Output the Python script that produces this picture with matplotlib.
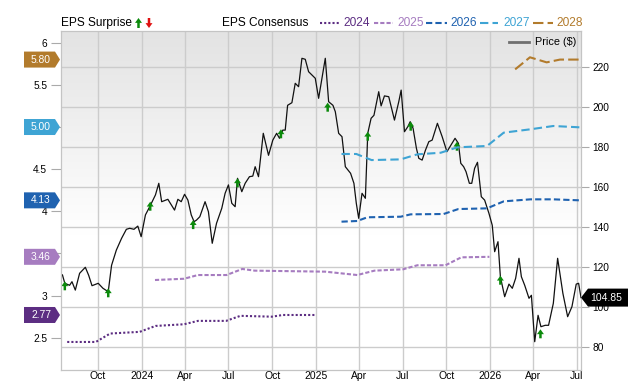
import matplotlib.pyplot as plt
import matplotlib.dates as mdates
import matplotlib.transforms as mtrans
from matplotlib.patches import Polygon, FancyArrowPatch
from matplotlib.lines import Line2D
import numpy as np
import pandas as pd

plt.rcParams['font.family'] = ['Liberation Sans', 'DejaVu Sans']

# ---- price ($), right axis ----
price_dates = [
    '2023-07-19', '2023-07-24', '2023-08-03', '2023-08-08', '2023-08-15', '2023-08-24', '2023-09-05',
    '2023-09-12', '2023-09-19', '2023-10-02', '2023-10-12', '2023-10-23', '2023-10-30', '2023-11-09',
    '2023-11-20', '2023-11-30', '2023-12-07', '2023-12-16', '2023-12-24', '2023-12-31', '2024-01-09',
    '2024-01-18', '2024-01-30', '2024-02-06', '2024-02-12', '2024-02-25', '2024-03-10', '2024-03-17',
    '2024-03-24', '2024-03-31', '2024-04-07', '2024-04-14', '2024-04-20', '2024-04-25', '2024-05-02',
    '2024-05-13', '2024-05-20', '2024-05-28', '2024-06-06', '2024-06-17', '2024-06-24', '2024-07-01',
    '2024-07-08', '2024-07-15', '2024-07-20', '2024-07-29', '2024-08-05', '2024-08-14', '2024-08-21',
    '2024-08-26', '2024-09-02', '2024-09-12', '2024-09-23', '2024-10-02', '2024-10-10', '2024-10-16',
    '2024-10-23', '2024-10-28', '2024-11-02', '2024-11-11', '2024-11-18', '2024-11-25', '2024-12-02',
    '2024-12-09', '2024-12-16', '2024-12-30', '2025-01-06', '2025-01-20', '2025-01-27', '2025-02-05',
    '2025-02-10', '2025-02-17', '2025-02-24', '2025-03-03', '2025-03-14', '2025-03-21', '2025-03-26',
    '2025-03-31', '2025-04-07', '2025-04-14', '2025-04-19', '2025-04-26', '2025-05-02', '2025-05-07',
    '2025-05-12', '2025-05-17', '2025-05-24', '2025-06-02', '2025-06-09', '2025-06-14', '2025-06-23',
    '2025-06-28', '2025-07-05', '2025-07-12', '2025-07-17', '2025-07-23', '2025-07-30', '2025-08-04',
    '2025-08-11', '2025-08-18', '2025-08-25', '2025-09-01', '2025-09-12', '2025-09-22', '2025-10-02',
    '2025-10-10', '2025-10-19', '2025-10-26', '2025-10-31', '2025-11-06', '2025-11-11', '2025-11-18',
    '2025-11-23', '2025-11-29', '2025-12-05', '2025-12-13', '2025-12-20', '2025-12-29', '2026-01-05',
    '2026-01-10', '2026-01-17', '2026-01-22', '2026-01-31', '2026-02-09', '2026-02-16', '2026-02-23',
    '2026-03-02', '2026-03-07', '2026-03-14', '2026-03-23', '2026-03-28', '2026-04-04', '2026-04-11',
    '2026-04-17', '2026-04-26', '2026-05-03', '2026-05-13', '2026-05-22', '2026-06-02', '2026-06-12',
    '2026-06-21', '2026-06-30', '2026-07-05', '2026-07-10']
price_values = [
    116.2, 112.0, 111.0, 112.8, 108.6, 117.0, 120.0,
    116.0, 110.8, 112.0, 109.5, 107.8, 121.0, 128.6,
    134.5, 139.0, 139.5, 139.0, 140.6, 135.3, 146.2,
    150.3, 156.2, 162.0, 152.8, 154.0, 148.6, 154.0,
    152.8, 156.5, 153.6, 146.2, 142.8, 143.6, 145.3,
    152.8, 147.8, 132.0, 142.0, 149.5, 157.0, 161.2,
    152.0, 150.3, 164.5, 157.8, 162.0, 165.3, 165.6,
    170.3, 165.3, 187.0, 176.0, 183.6, 187.0, 184.5,
    188.6, 188.6, 201.0, 202.3, 212.0, 210.3, 224.5,
    224.0, 217.8, 214.5, 204.5, 224.5, 202.8, 201.0,
    197.8, 187.0, 185.3, 170.3, 167.0, 162.0, 152.0,
    144.5, 157.0, 154.5, 187.0, 194.5, 196.0, 202.0,
    207.8, 200.7, 205.7, 205.3, 198.6, 193.6, 202.8,
    208.6, 187.8, 190.3, 192.8, 189.5, 179.5, 174.5,
    173.6, 178.6, 182.8, 183.6, 192.0, 185.3, 177.8,
    181.0, 184.5, 182.0, 172.0, 170.3, 167.8, 162.0,
    162.0, 169.5, 172.5, 155.3, 153.6, 147.0, 141.0,
    127.8, 132.8, 115.3, 105.3, 111.6, 109.5, 114.5,
    124.5, 115.3, 111.0, 104.5, 106.0, 82.8, 96.0,
    90.3, 91.0, 91.0, 102.0, 124.5, 107.0, 95.3,
    100.3, 111.6, 112.0, 104.85]
last_price = 104.85

# ---- EPS surprise (all positive) ----
surprise_dates = ['2023-07-24', '2023-10-23', '2024-01-19', '2024-04-18', '2024-07-20', '2024-10-19',
                  '2025-01-25', '2025-04-19', '2025-07-18', '2025-10-23', '2026-01-22', '2026-04-16']
surprise_prices = [113.0, 109.5, 152.8, 143.6, 164.5, 189.0, 202.3, 187.8, 192.8, 182.8, 115.8, 89.0]

# ---- EPS consensus by fiscal year, left axis ----
cons_years = ['2024', '2025', '2026', '2027', '2028']
cons_2024_dates = ['2023-07-29', '2023-09-27', '2023-10-27', '2023-12-28', '2024-01-30', '2024-03-30',
                   '2024-04-28', '2024-06-26', '2024-07-26', '2024-09-30', '2024-10-23', '2024-12-29']
cons_2024 = [2.45, 2.45, 2.55, 2.57, 2.64, 2.66, 2.70, 2.70, 2.76, 2.75, 2.77, 2.77]
cons_2025_dates = ['2024-01-29', '2024-03-30', '2024-04-28', '2024-06-27', '2024-07-30', '2024-08-25',
                   '2025-01-20', '2025-03-28', '2025-05-03', '2025-07-02', '2025-08-01', '2025-09-29',
                   '2025-11-01', '2025-12-30']
cons_2025 = [3.185, 3.20, 3.244, 3.244, 3.316, 3.296, 3.284, 3.244, 3.296, 3.312, 3.36, 3.36, 3.454, 3.46]
cons_2026_dates = ['2025-02-23', '2025-03-28', '2025-04-18', '2025-06-27', '2025-07-18', '2025-09-25',
                   '2025-10-26', '2025-12-25', '2026-01-29', '2026-03-26', '2026-05-13', '2026-07-08']
cons_2026 = [3.877, 3.885, 3.929, 3.936, 3.964, 3.968, 4.027, 4.035, 4.118, 4.142, 4.142, 4.13]
cons_2027_dates = ['2025-02-23', '2025-03-26', '2025-04-27', '2025-06-27', '2025-08-01', '2025-09-19',
                   '2025-10-24', '2025-12-25', '2026-01-29', '2026-03-26', '2026-05-13', '2026-07-08']
cons_2027 = [4.68, 4.68, 4.608, 4.616, 4.676, 4.695, 4.759, 4.775, 4.933, 4.973, 5.012, 4.996]
cons_2028_dates = ['2026-02-22', '2026-03-25', '2026-04-29', '2026-05-27', '2026-07-08']
cons_2028 = [5.684, 5.827, 5.767, 5.80, 5.80]
cons_last = ['2.77', '3.46', '4.13', '5.00', '5.80']

x_tick_dates = ['2023-10-01', '2024-01-01', '2024-04-01', '2024-07-01', '2024-10-01', '2025-01-01',
                '2025-04-01', '2025-07-01', '2025-10-01', '2026-01-01', '2026-04-01', '2026-07-01']
x_tick_labels = ['Oct', '2024', 'Apr', 'Jul', 'Oct', '2025', 'Apr', 'Jul', 'Oct', '2026', 'Apr', 'Jul']

cons_colors = ['#5c2d82', '#a67cc0', '#1f62b0', '#3ea4d4', '#b27b2c']
cons_dashes = [(1, 1), (2, 1), (3, 1.5), (4, 2), (5, 2)]
green = '#0b8a0b'
arrow_style = 'simple,head_width=0.5,head_length=0.35,tail_width=0.18'

fig = plt.figure(figsize=(6.4, 3.82), dpi=100)
pos = [61 / 640, 12 / 382, 520 / 640, 339 / 382]

# background gradient (grey at top fading to white)
bg = fig.add_axes(pos, zorder=-1)
t = np.linspace(0, 1, 200)[:, None]
shade = np.clip(t / 0.6, 0, 1)
top_c = np.array([0.89, 0.89, 0.89])
grad = top_c + (1 - top_c) * shade[..., None]
bg.imshow(grad, aspect='auto', extent=[0, 1, 0, 1])
bg.axis('off')

ax = fig.add_axes(pos)
ax.patch.set_visible(False)
ax.plot(pd.to_datetime(price_dates), price_values, color='#111111', lw=0.9, zorder=3)

for d, p in zip(surprise_dates, surprise_prices):
    ax.annotate('', xy=(mdates.date2num(pd.Timestamp(d)), p), xytext=(0, -9), textcoords='offset pixels',
                arrowprops=dict(arrowstyle=arrow_style, fc=green, ec='none', lw=0, shrinkA=0, shrinkB=0),
                zorder=4)

ax.set_xlim(pd.Timestamp('2023-07-16'), pd.Timestamp('2026-07-10'))
ax.set_ylim(68.65, 238.15)
ax.set_xticks(pd.to_datetime(x_tick_dates))
ax.set_xticklabels(x_tick_labels)
ax.tick_params(axis='x', length=0, pad=1, labelsize=7.5)
ax.grid(True, color='#cccccc', lw=1)
ax.set_axisbelow(True)

ax2 = ax.twinx()
for dts, vals, c, ds in zip([cons_2024_dates, cons_2025_dates, cons_2026_dates, cons_2027_dates, cons_2028_dates],
                            [cons_2024, cons_2025, cons_2026, cons_2027, cons_2028], cons_colors, cons_dashes):
    ax2.plot(pd.to_datetime(dts), vals, color=c, lw=1.5, dashes=ds)
ax2.set_ylim(2.1174, 6.139)
ax2.set_xlim(pd.Timestamp('2023-07-16'), pd.Timestamp('2026-07-10'))

# twinx flips sides, so set them afterwards: price on the right, EPS on the left
ax.yaxis.tick_right()
ax.set_yticks(range(80, 221, 20))
ax.tick_params(axis='y', length=6, color='#aaaaaa', labelsize=7.3, pad=2)
ax2.yaxis.tick_left()
ax2.set_yticks([2.5, 3, 3.5, 4, 4.5, 5, 5.5, 6])
ax2.set_yticklabels(['2.5', '3', '3.5', '4', '4.5', '5', '5.5', '6'])
ax2.tick_params(axis='y', length=7, color='#aaaaaa', labelsize=7.3, pad=3)

for a in (ax, ax2):
    for s in a.spines.values():
        s.set_color('#c4c4c4')

# coloured tags on the left axis
left_base = mtrans.blended_transform_factory(ax2.transAxes, ax2.transData)
for val, c in zip(cons_last, cons_colors):
    tr = fig.dpi_scale_trans + mtrans.ScaledTranslation(0, float(val), left_base)
    fig.add_artist(Polygon([(-0.37, -0.08), (-0.06, -0.08), (-0.01, 0), (-0.06, 0.08), (-0.37, 0.08)],
                           closed=True, transform=tr, facecolor=c, edgecolor='none', zorder=6))
    fig.text(-0.2, 0, val, transform=tr, color='white', fontsize=7.4, ha='center', va='center', zorder=7)

# last price tag on the right axis
right_base = mtrans.blended_transform_factory(ax.transAxes, ax.transData)
tr = fig.dpi_scale_trans + mtrans.ScaledTranslation(1, last_price, right_base)
fig.add_artist(Polygon([(0.0, 0), (0.07, -0.09), (0.47, -0.09), (0.47, 0.09), (0.07, 0.09)],
                       closed=True, transform=tr, facecolor='black', edgecolor='none', zorder=6))
fig.text(0.25, 0, f'{last_price:.2f}', transform=tr, color='white', fontsize=7.5, ha='center', va='center', zorder=7)

# legend row on top
ly = (382 - 23) / 382
fig.text(61 / 640, ly, 'EPS Surprise', fontsize=8.6, va='center')
fig.add_artist(FancyArrowPatch((138.5 / 640, (382 - 28) / 382), (138.5 / 640, (382 - 18) / 382),
                               transform=fig.transFigure, arrowstyle=arrow_style, mutation_scale=10,
                               fc=green, ec='none', lw=0, shrinkA=0, shrinkB=0))
fig.add_artist(FancyArrowPatch((149 / 640, (382 - 18) / 382), (149 / 640, (382 - 28) / 382),
                               transform=fig.transFigure, arrowstyle=arrow_style, mutation_scale=10,
                               fc='#e01010', ec='none', lw=0, shrinkA=0, shrinkB=0))
fig.text(222.5 / 640, ly, 'EPS Consensus', fontsize=8.6, va='center')
leg_x = [(320, 340, 343), (374, 393, 397.5), (426, 447, 450), (479.5, 498, 503), (533, 553, 556.5)]
for (x0, x1, xt), yr, c, ds in zip(leg_x, cons_years, cons_colors, cons_dashes):
    fig.add_artist(Line2D([x0 / 640, x1 / 640], [ly, ly], transform=fig.transFigure, color=c, lw=1.5, dashes=ds))
    fig.text(xt / 640, ly, yr, fontsize=8.6, va='center', color=c)

py = (382 - 41.7) / 382
fig.add_artist(Line2D([509 / 640, 529 / 640], [py, py], transform=fig.transFigure, color='#6f6f6f', lw=2))
fig.text(535 / 640, py, 'Price ($)', fontsize=7.8, va='center')

fig.savefig('out.png', dpi=100)
